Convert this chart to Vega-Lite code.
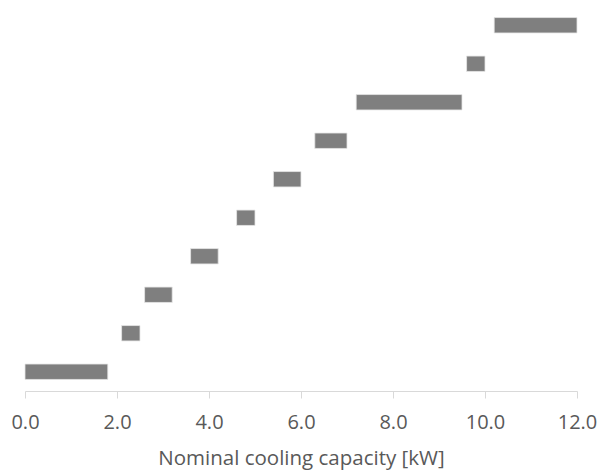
{
  "$schema": "https://vega.github.io/schema/vega-lite/v6.json",
  "autosize": {"type": "none"},
  "width": 552,
  "height": 385,
  "padding": {"left": 25, "top": 6, "right": 22, "bottom": 85},
  "background": "white",
  "config": {"view": {"stroke": null}},
  "data": {"values": [
    {"id": 1, "start": 0.0, "end": 1.8},
    {"id": 2, "start": 2.1, "end": 2.5},
    {"id": 3, "start": 2.6, "end": 3.2},
    {"id": 4, "start": 3.6, "end": 4.2},
    {"id": 5, "start": 4.6, "end": 5.0},
    {"id": 6, "start": 5.4, "end": 6.0},
    {"id": 7, "start": 6.3, "end": 7.0},
    {"id": 8, "start": 7.2, "end": 9.5},
    {"id": 9, "start": 9.6, "end": 10.0},
    {"id": 10, "start": 10.2, "end": 12.0}
  ]},
  "mark": {"type": "bar", "color": "#7f7f7f", "stroke": "#e6e6e6", "strokeWidth": 0.8},
  "encoding": {
    "y": {"field": "id", "type": "ordinal", "sort": "descending", "axis": null,
          "scale": {"paddingInner": 0.6, "paddingOuter": 0.3}},
    "x": {"field": "start", "type": "quantitative",
          "scale": {"domain": [0, 12], "nice": false},
          "axis": {"values": [0, 2, 4, 6, 8, 10, 12], "format": ".1f", "grid": false,
                   "labelFlush": false, "labelOverlap": false,
                   "domainColor": "#d9d9d9", "tickColor": "#d9d9d9", "tickSize": 7,
                   "labelColor": "#595959", "labelFont": "Open Sans", "labelFontSize": 20,
                   "labelPadding": 14,
                   "title": "Nominal cooling capacity [kW]", "titleColor": "#595959",
                   "titleFont": "Open Sans", "titleFontSize": 20.5, "titleFontWeight": "normal",
                   "titlePadding": 16}},
    "x2": {"field": "end"}
  }
}
